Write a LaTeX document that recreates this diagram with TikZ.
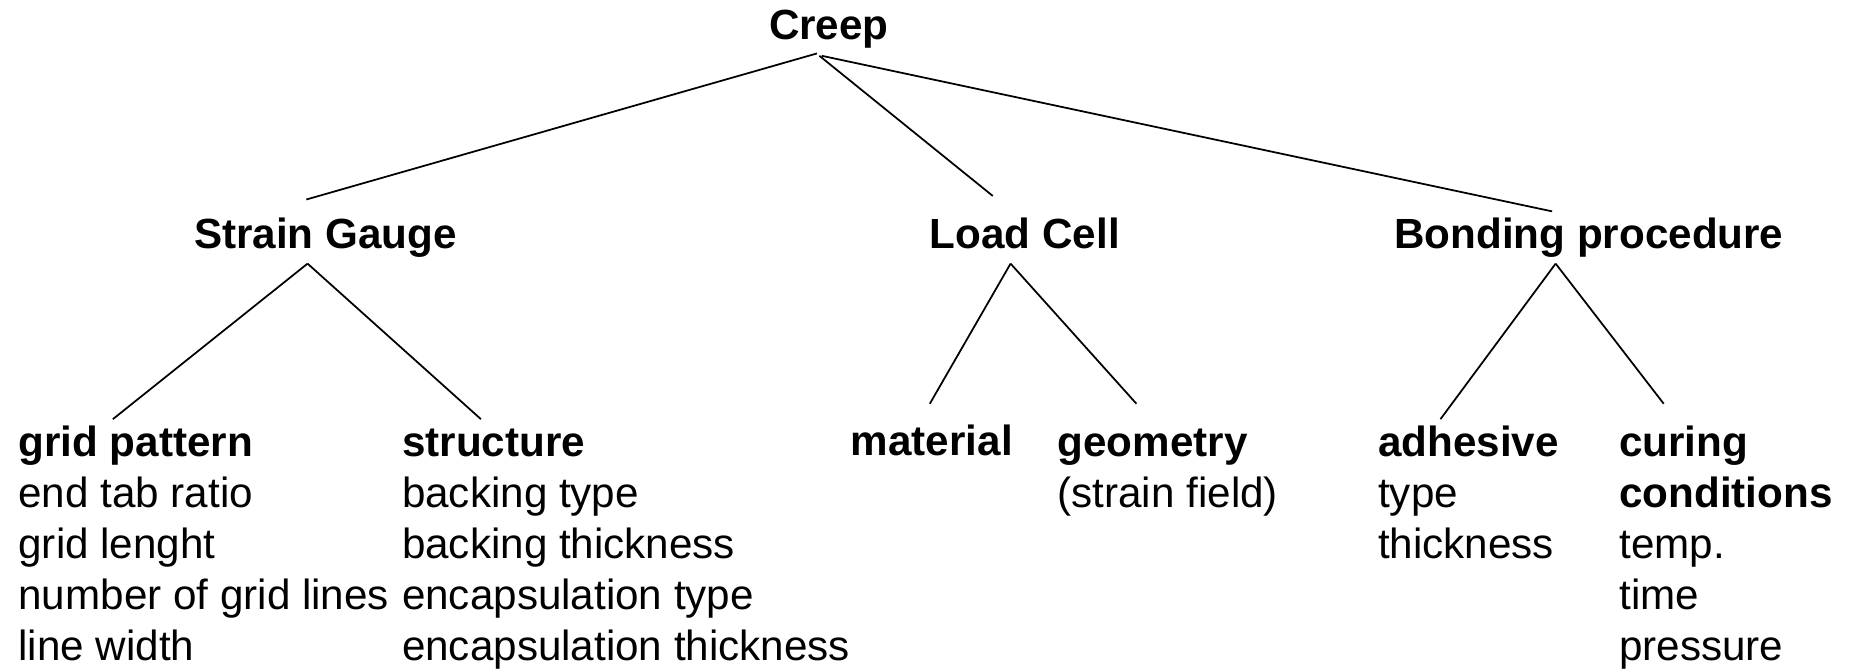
\documentclass[tikz,border=0pt]{standalone}
\usepackage{fontspec}
\setmainfont{Liberation Sans}
\begin{document}
\begin{tikzpicture}[x=0.011875cm, y=-0.011875cm,
		head_style/.style={anchor=base, inner sep=0pt, font=\fontsize{12}{14.5}\selectfont\bfseries},
		leaf_style/.style={anchor=base west, inner sep=0pt, align=left, font=\fontsize{12}{14.5}\selectfont},
		edge_style/.style={draw=black, line width=0.5pt}]
		
		\useasboundingbox (0,0) rectangle (1568,563);
		
		% main levels
		\node[head_style] (creep) at (698,33)  {Creep};
		\node[head_style] (sg) at (274,209)  {Strain Gauge};
		\node[head_style] (lc) at (863,209)  {Load Cell};
		\node[head_style] (bp) at (1338,209)  {Bonding procedure};
		
		% leaves (placed at the baseline of their last line)
		\node[leaf_style] (grid) at (15,556)  {\textbf{grid pattern}\\end tab ratio\\grid lenght\\number of grid lines\\line width};
		\node[leaf_style] (struct) at (338,556)  {\textbf{structure}\\backing type\\backing thickness\\encapsulation type\\encapsulation thickness};
		\node[leaf_style] (mat) at (716,384)  {\textbf{material}};
		\node[leaf_style] (geom) at (890,427)  {\textbf{geometry}\\(strain field)};
		\node[leaf_style] (adh) at (1160,470)  {\textbf{adhesive}\\type\\thickness};
		\node[leaf_style] (cur) at (1363,556)  {\textbf{curing}\\\textbf{conditions}\\temp.\\time\\pressure};
		
		% line ends
		\coordinate (creep_a) at (688,45);
		\coordinate (creep_b) at (690,47);
		\coordinate (creep_c) at (692,47);
		\coordinate (sg_t) at (258,168);
		\coordinate (lc_t) at (836,165);
		\coordinate (bp_t) at (1307,178);
		\coordinate (sg_b) at (259,222);
		\coordinate (lc_b) at (851,222);
		\coordinate (bp_b) at (1310,222);
		\coordinate (grid_t) at (95,353);
		\coordinate (struct_t) at (405,353);
		\coordinate (mat_t) at (783,340);
		\coordinate (geom_t) at (957,340);
		\coordinate (adh_t) at (1213,353);
		\coordinate (cur_t) at (1401,340);
		
		\draw[edge_style]  (creep_a) -- (sg_t);
		\draw[edge_style]  (creep_b) -- (lc_t);
		\draw[edge_style]  (creep_c) -- (bp_t);
		\draw[edge_style]  (sg_b) -- (grid_t);
		\draw[edge_style]  (sg_b) -- (struct_t);
		\draw[edge_style]  (lc_b) -- (mat_t);
		\draw[edge_style]  (lc_b) -- (geom_t);
		\draw[edge_style]  (bp_b) -- (adh_t);
		\draw[edge_style]  (bp_b) -- (cur_t);
		
\end{tikzpicture}
\end{document}
